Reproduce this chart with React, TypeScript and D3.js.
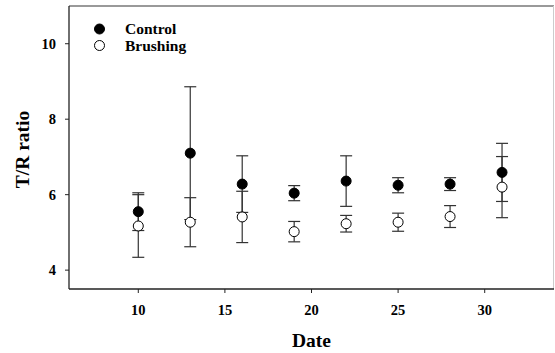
import React from "react";
import * as d3 from "d3";

const dates = [10, 13, 16, 19, 22, 25, 28, 31];
const controlMean = [5.55, 7.1, 6.28, 6.04, 6.36, 6.25, 6.28, 6.59];
const controlErr = [0.5, 1.76, 0.75, 0.2, 0.67, 0.2, 0.17, 0.77];
const brushingMean = [5.17, 5.27, 5.41, 5.02, 5.23, 5.27, 5.42, 6.2];
const brushingErr = [0.83, 0.65, 0.68, 0.27, 0.22, 0.24, 0.29, 0.81];
const xTicks = [10, 15, 20, 25, 30];
const yTicks = [4, 6, 8, 10];

const W = 555;
const H = 353;
const M = { left: 69, right: 1, top: 6, bottom: 64 };
const FONT = "'Liberation Serif', 'Times New Roman', serif";

export default function App() {
  const x = d3.scaleLinear().domain([6, 34]).range([M.left, W - M.right]);
  const y = d3.scaleLinear().domain([3.5, 11]).range([H - M.bottom, M.top]);
  const x0 = M.left, x1 = W - M.right, y0 = H - M.bottom, y1 = M.top;
  const cap = 6;
  const r = 5;

  const series = [
    { name: "Brushing", mean: brushingMean, err: brushingErr, fill: "#fff" },
    { name: "Control", mean: controlMean, err: controlErr, fill: "#000" },
  ];

  return (
    <svg width={W} height={H} style={{ position: "absolute", left: 0, top: 0, background: "#fff" }}>
      {/* frame */}
      <line x1={x0} x2={x1} y1={y1} y2={y1} stroke="#777" strokeWidth={1.5} />
      <line x1={x1 - 0.5} x2={x1 - 0.5} y1={y1} y2={y0} stroke="#ccc" strokeWidth={1} />
      <line x1={x0} x2={x0} y1={y1} y2={y0} stroke="#222" strokeWidth={1.3} />
      <line x1={x0} x2={x1} y1={y0} y2={y0} stroke="#222" strokeWidth={1.3} />

      {/* x ticks */}
      {xTicks.map((t) => (
        <g key={"x" + t}>
          <line x1={x(t)} x2={x(t)} y1={y0} y2={y0 + 4} stroke="#222" strokeWidth={1} />
          <text x={x(t)} y={y0 + 26} textAnchor="middle" fontFamily={FONT} fontWeight="bold" fontSize={14.5}>
            {t}
          </text>
        </g>
      ))}
      {/* y ticks */}
      {yTicks.map((t) => (
        <g key={"y" + t}>
          <line x1={x0 - 4} x2={x0} y1={y(t)} y2={y(t)} stroke="#222" strokeWidth={1} />
          <text x={x0 - 13} y={y(t) + 5} textAnchor="end" fontFamily={FONT} fontWeight="bold" fontSize={14.5}>
            {t}
          </text>
        </g>
      ))}

      {/* axis labels */}
      <text x={(x0 + x1) / 2} y={347} textAnchor="middle" fontFamily={FONT} fontWeight="bold" fontSize={19.5}>
        Date
      </text>
      <text
        transform={`translate(29,${(y0 + y1) / 2 + 2}) rotate(-90)`}
        textAnchor="middle"
        fontFamily={FONT}
        fontWeight="bold"
        fontSize={19.5}
      >
        T/R ratio
      </text>

      {/* error bars */}
      {series.map((s) =>
        dates.map((d, i) => {
          const cx = x(d);
          const top = y(s.mean[i] + s.err[i]);
          const bot = y(s.mean[i] - s.err[i]);
          return (
            <g key={s.name + "e" + i} stroke="#333" strokeWidth={1.2}>
              <line x1={cx} x2={cx} y1={top} y2={bot} />
              <line x1={cx - cap} x2={cx + cap} y1={top} y2={top} />
              <line x1={cx - cap} x2={cx + cap} y1={bot} y2={bot} />
            </g>
          );
        })
      )}
      {/* points */}
      {series.map((s) =>
        dates.map((d, i) => (
          <circle
            key={s.name + "p" + i}
            cx={x(d)}
            cy={y(s.mean[i])}
            r={r}
            fill={s.fill}
            stroke="#000"
            strokeWidth={1}
          />
        ))
      )}

      {/* legend */}
      <circle cx={99.5} cy={29} r={5} fill="#000" stroke="#000" />
      <circle cx={99.5} cy={45.5} r={5} fill="#fff" stroke="#000" />
      <text x={125} y={34} fontFamily={FONT} fontWeight="bold" fontSize={15.5}>
        Control
      </text>
      <text x={125} y={50.5} fontFamily={FONT} fontWeight="bold" fontSize={15.5}>
        Brushing
      </text>
    </svg>
  );
}
